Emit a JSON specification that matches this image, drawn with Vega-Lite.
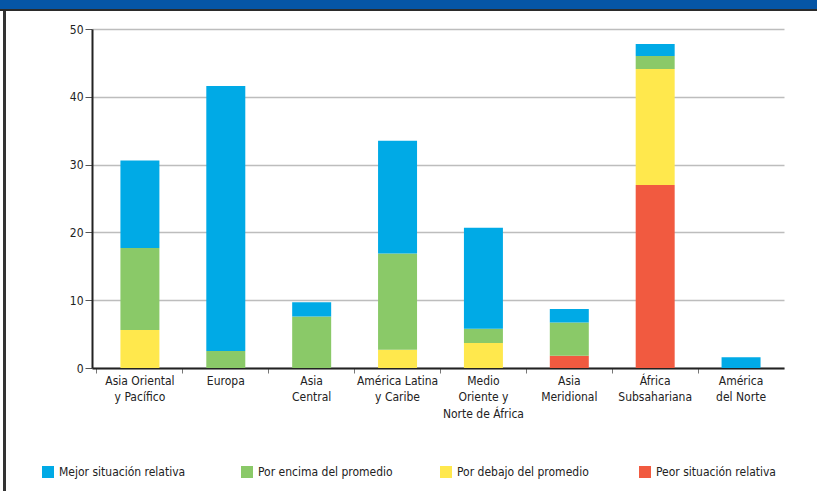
{
  "$schema": "https://vega.github.io/schema/vega-lite/v6.json",
  "padding": 0,
  "spacing": 0,
  "background": "white",
  "config": {"view": {"stroke": null}, "concat": {"spacing": 0}},
  "vconcat": [
    {"width": 817, "height": 9, "view": {"fill": "#0656a6", "stroke": null}, "data": {"values": []}, "mark": "rect", "encoding": {}},
    {"width": 817, "height": 2, "view": {"fill": "#2b2b2b", "stroke": null}, "data": {"values": []}, "mark": "rect", "encoding": {}},
    {"vconcat": [
      {"hconcat": [
        {"width": 3, "height": 18, "view": {"fill": "white", "stroke": null}, "data": {"values": []}, "mark": "rect", "encoding": {}},
        {"width": 3, "height": 18, "view": {"fill": "#333333", "stroke": null}, "data": {"values": []}, "mark": "rect", "encoding": {}}
      ], "spacing": 0},
      {"hconcat": [
        {"width": 3, "height": 469, "view": {"fill": "white", "stroke": null}, "data": {"values": []}, "mark": "rect", "encoding": {}},
        {"width": 3, "height": 469, "view": {"fill": "#333333", "stroke": null}, "data": {"values": []}, "mark": "rect", "encoding": {}},
        {
          "width": 692,
          "height": 339,
          "data": {"values": [
            {"region": "Asia Oriental y Pacífico", "categoria": "Por debajo del promedio", "orden": 2, "valor": 5.6},
            {"region": "Asia Oriental y Pacífico", "categoria": "Por encima del promedio", "orden": 3, "valor": 12.1},
            {"region": "Asia Oriental y Pacífico", "categoria": "Mejor situación relativa", "orden": 4, "valor": 12.9},
            {"region": "Europa", "categoria": "Por encima del promedio", "orden": 3, "valor": 2.5},
            {"region": "Europa", "categoria": "Mejor situación relativa", "orden": 4, "valor": 39.1},
            {"region": "Asia Central", "categoria": "Por encima del promedio", "orden": 3, "valor": 7.6},
            {"region": "Asia Central", "categoria": "Mejor situación relativa", "orden": 4, "valor": 2.1},
            {"region": "América Latina y Caribe", "categoria": "Por debajo del promedio", "orden": 2, "valor": 2.7},
            {"region": "América Latina y Caribe", "categoria": "Por encima del promedio", "orden": 3, "valor": 14.2},
            {"region": "América Latina y Caribe", "categoria": "Mejor situación relativa", "orden": 4, "valor": 16.6},
            {"region": "Medio Oriente y Norte de África", "categoria": "Por debajo del promedio", "orden": 2, "valor": 3.7},
            {"region": "Medio Oriente y Norte de África", "categoria": "Por encima del promedio", "orden": 3, "valor": 2.1},
            {"region": "Medio Oriente y Norte de África", "categoria": "Mejor situación relativa", "orden": 4, "valor": 14.9},
            {"region": "Asia Meridional", "categoria": "Peor situación relativa", "orden": 1, "valor": 1.8},
            {"region": "Asia Meridional", "categoria": "Por encima del promedio", "orden": 3, "valor": 4.9},
            {"region": "Asia Meridional", "categoria": "Mejor situación relativa", "orden": 4, "valor": 2.0},
            {"region": "África Subsahariana", "categoria": "Peor situación relativa", "orden": 1, "valor": 27.0},
            {"region": "África Subsahariana", "categoria": "Por debajo del promedio", "orden": 2, "valor": 17.1},
            {"region": "África Subsahariana", "categoria": "Por encima del promedio", "orden": 3, "valor": 1.9},
            {"region": "África Subsahariana", "categoria": "Mejor situación relativa", "orden": 4, "valor": 1.8},
            {"region": "América del Norte", "categoria": "Mejor situación relativa", "orden": 4, "valor": 1.6}
          ]},
          "mark": {"type": "bar", "width": {"band": 0.454}},
          "encoding": {
            "x": {
              "field": "region", "type": "nominal",
              "sort": ["Asia Oriental y Pacífico", "Europa", "Asia Central", "América Latina y Caribe", "Medio Oriente y Norte de África", "Asia Meridional", "África Subsahariana", "América del Norte"],
              "scale": {"paddingInner": 0, "paddingOuter": 0.029, "align": 1},
              "axis": {
                "title": null, "labelAngle": 0, "bandPosition": 0, "grid": false,
                "tickSize": 5, "tickColor": "#777777", "tickWidth": 1,
                "domainColor": "#222222", "domainWidth": 2,
                "labelFont": "Liberation Sans Narrow, DejaVu Sans Condensed, Roboto, sans-serif",
                "labelFontSize": 12, "labelColor": "#222222", "labelPadding": 2,
                "labelLineHeight": 16.5, "labelBaseline": "top", "labelOverlap": false,
                "labelExpr": "datum.label == 'Asia Oriental y Pacífico' ? ['Asia Oriental', 'y Pacífico'] : datum.label == 'Asia Central' ? ['Asia', 'Central'] : datum.label == 'América Latina y Caribe' ? ['América Latina', 'y Caribe'] : datum.label == 'Medio Oriente y Norte de África' ? ['Medio', 'Oriente y', 'Norte de África'] : datum.label == 'Asia Meridional' ? ['Asia', 'Meridional'] : datum.label == 'África Subsahariana' ? ['África', 'Subsahariana'] : datum.label == 'América del Norte' ? ['América', 'del Norte'] : datum.label"
              }
            },
            "y": {
              "field": "valor", "type": "quantitative", "stack": "zero",
              "scale": {"domain": [0, 50], "nice": false},
              "axis": {
                "title": null, "values": [0, 10, 20, 30, 40, 50], "grid": true,
                "gridColor": "#bdbdbd", "gridWidth": 1.5,
                "domainColor": "#222222", "domainWidth": 2,
                "tickColor": "#555555", "tickSize": 7, "tickWidth": 1, "labelPadding": 2,
                "labelFont": "Liberation Sans Narrow, DejaVu Sans Condensed, Roboto, sans-serif",
                "labelFontSize": 12, "labelColor": "#222222", "minExtent": 86
              }
            },
            "color": {
              "field": "categoria", "type": "nominal",
              "scale": {
                "domain": ["Mejor situación relativa", "Por encima del promedio", "Por debajo del promedio", "Peor situación relativa"],
                "range": ["#00aae6", "#8ac968", "#ffe84d", "#f15a40"]
              },
              "legend": {
                "orient": "none", "legendX": 42, "legendY": 466, "direction": "horizontal",
                "columns": 4, "gridAlign": "all", "columnPadding": 47, "title": null, "padding": 0,
                "symbolType": "square", "symbolSize": 144, "symbolStrokeWidth": 0, "symbolOpacity": 1,
                "labelFont": "Liberation Sans Narrow, DejaVu Sans Condensed, Roboto, sans-serif",
                "labelFontSize": 12, "labelColor": "#222222", "labelOffset": 5
              }
            },
            "order": {"field": "orden", "type": "quantitative", "sort": "ascending"}
          }
        }
      ], "spacing": 0}
    ], "spacing": -7}
  ]
}
